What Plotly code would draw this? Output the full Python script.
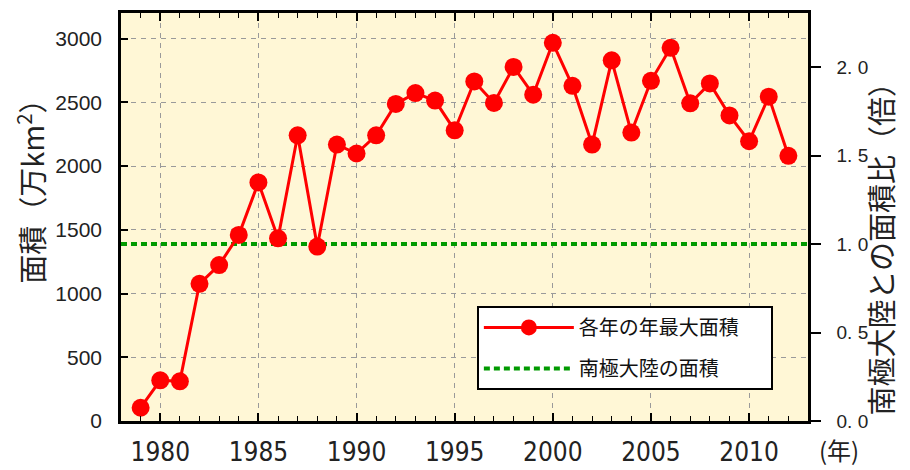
import plotly.graph_objects as go

# ---- data ----
years = list(range(1979, 2013))
max_area = [104, 319, 311, 1076, 1223, 1459, 1871, 1433, 2241, 1368,
            2168, 2098, 2241, 2487, 2572, 2513, 2280, 2663, 2495, 2777,
            2559, 2966, 2629, 2168, 2829, 2262, 2668, 2927, 2492, 2648,
            2397, 2194, 2544, 2080]
antarctica_area = 1388
left_ticks = [0, 500, 1000, 1500, 2000, 2500, 3000]
right_ticks = [0.0, 0.5, 1.0, 1.5, 2.0]
right_ticktext = ["0. 0", "0. 5", "1. 0", "1. 5", "2. 0"]
x_ticks = [1980, 1985, 1990, 1995, 2000, 2005, 2010]

y_max = 3200
x_range = [1978, 2013]

JP = "Noto Sans CJK JP"
NUM = "Liberation Sans, Arial, sans-serif"
NARROW = "Liberation Sans Narrow, Arial Narrow, DejaVu Sans Condensed, sans-serif"
PAD = "\u00a0" * 6

fig = go.Figure()

fig.add_trace(go.Scatter(
    x=x_range, y=[antarctica_area, antarctica_area],
    mode="lines", name="南極大陸の面積" + PAD,
    line=dict(color="#009a00", width=4, dash="6px,4px"),
    legendgroup="b", legendrank=2,
))
fig.add_trace(go.Scatter(
    x=years, y=max_area, mode="lines+markers", name="各年の年最大面積" + PAD,
    line=dict(color="#ff0000", width=3),
    marker=dict(color="#ff0000", size=18),
    legendgroup="a", legendrank=1,
))
# invisible trace for right axis
fig.add_trace(go.Scatter(
    x=[x_range[0]], y=[0], yaxis="y2", mode="markers",
    marker=dict(opacity=0), showlegend=False, hoverinfo="skip",
))

fig.update_layout(
    width=902, height=462,
    margin=dict(l=113, r=102, t=2, b=49),
    paper_bgcolor="white",
    plot_bgcolor="#fff7d6",
    showlegend=True,
    legend=dict(
        x=0.518, y=0.282, xanchor="left", yanchor="top",
        bgcolor="white", bordercolor="black", borderwidth=2,
        font=dict(family=JP, size=20, color="#111"),
        tracegroupgap=12, itemwidth=90,
    ),
    xaxis=dict(
        range=x_range, tickvals=x_ticks,
        ticks="inside", ticklen=8, tickwidth=1.5, tickcolor="black",
        minor=dict(dtick=1, tick0=1979, ticks="inside", ticklen=5,
                   tickcolor="black", tickwidth=1, showgrid=False),
        showline=True, linecolor="black", linewidth=2.5, mirror="ticks",
        showgrid=True, gridcolor="#9a9a9a", griddash="5px,5px", gridwidth=1,
        tickfont=dict(family=NARROW, size=26, color="#222"),
        ticklabelstandoff=6, zeroline=False,
    ),
    yaxis=dict(
        range=[0, y_max], tickvals=left_ticks,
        ticks="inside", ticklen=7, tickwidth=1.5, tickcolor="black",
        showline=True, linecolor="black", linewidth=2.5, mirror=True,
        showgrid=True, gridcolor="#9a9a9a", griddash="5px,5px", gridwidth=1,
        tickfont=dict(family=NUM, size=21, color="#222"),
        ticklabelstandoff=12, zeroline=False,
    ),
    yaxis2=dict(
        overlaying="y", side="right",
        range=[0, y_max / antarctica_area],
        tickvals=right_ticks, ticktext=right_ticktext,
        ticks="outside", ticklen=10, tickwidth=1.5, tickcolor="black",
        showline=True, linecolor="black", linewidth=2.5,
        showgrid=False, zeroline=False,
        tickfont=dict(family=NUM, size=19, color="#222"),
        ticklabelstandoff=12,
    ),
    annotations=[
        dict(text="面積（万km<sup>2</sup>）", xref="paper", yref="paper",
             x=-0.132, y=0.58, textangle=-90, showarrow=False,
             xanchor="center", yanchor="middle",
             font=dict(family=JP, size=29, color="#222")),
        dict(text="南極大陸との面積比（倍）", xref="paper", yref="paper",
             x=1.105, y=0.44, textangle=-90, showarrow=False,
             xanchor="center", yanchor="middle",
             font=dict(family=JP, size=29, color="#222")),
        dict(text="(年)", xref="paper", yref="paper",
             x=1.045, y=-0.07, showarrow=False,
             xanchor="center", yanchor="middle",
             font=dict(family=JP, size=24, color="#222")),
    ],
)

fig.write_html("out.html")
